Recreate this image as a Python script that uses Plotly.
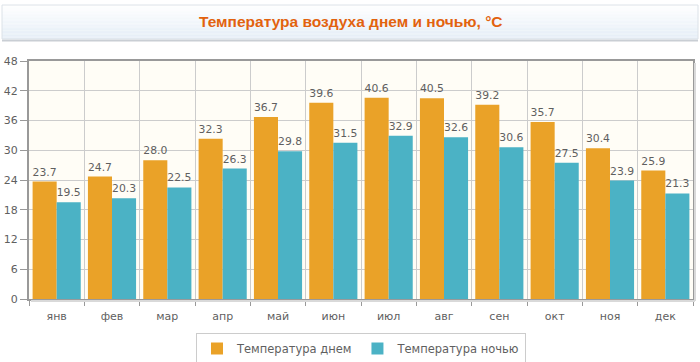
import plotly.graph_objects as go

months = ["янв", "фев", "мар", "апр", "май", "июн", "июл", "авг", "сен", "окт", "ноя", "дек"]
day_temp = [23.7, 24.7, 28.0, 32.3, 36.7, 39.6, 40.6, 40.5, 39.2, 35.7, 30.4, 25.9]
night_temp = [19.5, 20.3, 22.5, 26.3, 29.8, 31.5, 32.9, 32.6, 30.6, 27.5, 23.9, 21.3]
series_names = ["Температура днем", "Температура ночью"]
title_text = "Температура воздуха днем и ночью, °C"
y_ticks = [0, 6, 12, 18, 24, 30, 36, 42, 48]

W, H = 700, 362
L, R, T, B = 29, 7, 61, 63
pw, ph = W - L - R, H - T - B


def px_x(x):
    return (x - L) / pw


def px_y(y):
    return (H - B - y) / ph


num_font = dict(family="DejaVu Sans", size=11, color="#5F5F5F")

fig = go.Figure()
fig.add_trace(go.Bar(
    x=months, y=day_temp, name=series_names[0], marker_color="#EAA228",
    marker_line_width=0, texttemplate="%{y:.1f}", textposition="outside",
    textfont=num_font, cliponaxis=False,
))
fig.add_trace(go.Bar(
    x=months, y=night_temp, name=series_names[1], marker_color="#4BB2C5",
    marker_line_width=0, texttemplate="%{y:.1f}", textposition="outside",
    textfont=num_font, cliponaxis=False,
))

shapes = []
# title box gradient
x0, x1 = px_x(2), px_x(698)
top_px, bot_px = 5, 39
n = 24
c0 = (255, 255, 255)
c1 = (228, 237, 246)
for i in range(n):
    ya = top_px + (bot_px - top_px) * i / n
    yb = top_px + (bot_px - top_px) * (i + 1) / n
    t = (i + 0.5) / n
    c = tuple(int(round(c0[k] + (c1[k] - c0[k]) * t)) for k in range(3))
    shapes.append(dict(type="rect", xref="paper", yref="paper", x0=x0, x1=x1,
                       y0=px_y(yb), y1=px_y(ya), fillcolor="rgb(%d,%d,%d)" % c,
                       line_width=0, layer="below"))
# shadow under title box
shapes.append(dict(type="line", xref="paper", yref="paper", x0=x0, x1=x1,
                   y0=px_y(40.5), y1=px_y(40.5), line=dict(color="#C9CED4", width=2)))
shapes.append(dict(type="rect", xref="paper", yref="paper", x0=x0, x1=x1,
                   y0=px_y(bot_px), y1=px_y(top_px), fillcolor="rgba(0,0,0,0)",
                   line=dict(color="#DCE2E8", width=1)))
# plot shadow right/bottom
shapes.append(dict(type="line", xref="paper", yref="paper", x0=px_x(695), x1=px_x(695),
                   y0=px_y(301), y1=px_y(63), line=dict(color="#D9D9D9", width=2)))
shapes.append(dict(type="line", xref="paper", yref="paper", x0=px_x(31), x1=px_x(695),
                   y0=px_y(301), y1=px_y(301), line=dict(color="#D9D9D9", width=2)))

fig.update_layout(
    width=W, height=H,
    margin=dict(l=L, r=R, t=T, b=B, autoexpand=False),
    paper_bgcolor="white",
    plot_bgcolor="#FFFDF6",
    barmode="group", bargap=0.13, bargroupgap=0,
    showlegend=True,
    legend=dict(orientation="h", x=0.5, xanchor="center", y=px_y(333), yanchor="top",
                bordercolor="#CCCCCC", borderwidth=1, bgcolor="white",
                font=dict(family="DejaVu Sans", size=11.5, color="#5F5F5F"),
                itemwidth=30, tracegroupgap=0),
    shapes=shapes,
    annotations=[dict(text="<b>" + title_text + "</b>", xref="paper", yref="paper",
                      x=px_x(351), y=px_y(22), xanchor="center", yanchor="middle",
                      showarrow=False,
                      font=dict(family="Liberation Sans, Arial", size=15.5,
                                color="#E2620E"))],
    xaxis=dict(type="category", tickson="boundaries", showgrid=True, gridcolor="#CCCCCC",
               gridwidth=1, showline=True, mirror=True, linecolor="#999999", linewidth=2,
               ticks="outside", ticklen=5, tickcolor="#999999", tickfont=num_font,
               ticklabelstandoff=6, automargin=False),
    yaxis=dict(range=[0, 48], tickvals=y_ticks, showgrid=True, gridcolor="#CCCCCC",
               gridwidth=1, showline=True, mirror=True, linecolor="#999999", linewidth=2,
               ticks="outside", ticklen=7, tickcolor="#999999", tickfont=num_font,
               zeroline=False, automargin=False),
)

fig.write_html("out.html", config={"displayModeBar": False},
               post_script="document.body.style.margin='0';")
